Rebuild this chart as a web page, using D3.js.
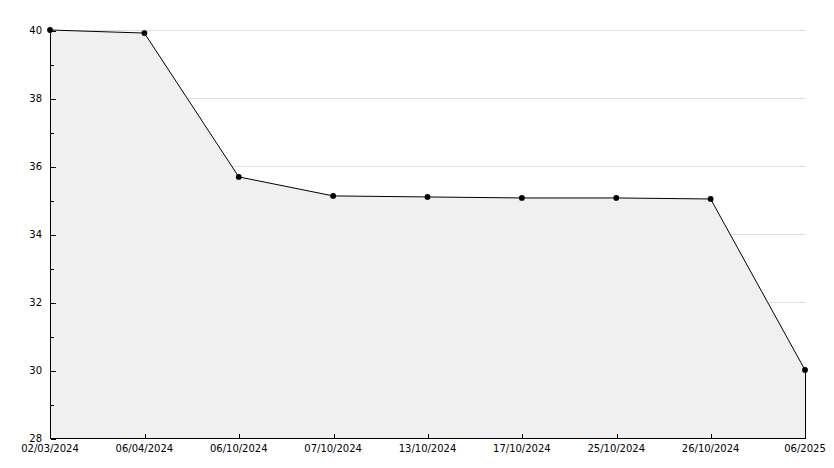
<!DOCTYPE html>
<html><head><meta charset="utf-8">
<script src="https://cdn.jsdelivr.net/npm/d3@7"></script>
<style>body{margin:0;background:#fff}svg{display:block}text{font-family:"DejaVu Sans",sans-serif;font-size:10px;fill:#000}</style>
</head><body>
<script>
const categories = ["02/03/2024","06/04/2024","06/10/2024","07/10/2024","13/10/2024","17/10/2024","25/10/2024","26/10/2024","06/2025"];
const values = [40, 39.91, 35.68, 35.12, 35.09, 35.06, 35.06, 35.03, 30];
const yTicks = [28, 30, 32, 34, 36, 38, 40];
const yMinor = [29, 31, 33, 35, 37, 39];

(function () {
const W = 834, H = 468;
const pL = 50, pR = 805, pT = 30, pB = 438;
const svg = d3.select("body").append("svg").attr("width", W).attr("height", H);

const x = d3.scalePoint().domain(categories).range([pL, pR]);
const y = d3.scaleLinear().domain([28, 40]).range([pB, pT]);
const data = categories.map((c, i) => ({c, v: values[i]}));

// grid
svg.append("g").selectAll("line").data(yTicks.filter(t => t > 28)).join("line")
  .attr("x1", pL).attr("x2", pR)
  .attr("y1", d => Math.round(y(d)) + 0.5).attr("y2", d => Math.round(y(d)) + 0.5)
  .attr("stroke", "#dddddd").attr("stroke-width", 1);

// area
const area = d3.area().x(d => x(d.c)).y0(y(28)).y1(d => y(d.v));
svg.append("path").datum(data).attr("d", area).attr("fill", "#f0f0f0");

// right edge line
svg.append("line").attr("x1", pR + 0.5).attr("x2", pR + 0.5)
  .attr("y1", y(values[values.length - 1])).attr("y2", pB)
  .attr("stroke", "#000").attr("shape-rendering", "crispEdges");

// line
const line = d3.line().x(d => x(d.c)).y(d => y(d.v));
svg.append("path").datum(data).attr("d", line).attr("fill", "none").attr("stroke", "#000").attr("stroke-width", 1);

// markers
const sym = d3.symbol().type(d3.symbolCircle).size(26);
svg.append("g").selectAll("path").data(data).join("path")
  .attr("transform", d => `translate(${x(d.c)},${y(d.v)})`)
  .attr("d", sym).attr("fill", "#000");

// y axis
const ga = svg.append("g").attr("transform", `translate(${pL + 0.5},0.5)`)
  .call(d3.axisRight(y).tickValues(yTicks).tickSize(5).tickFormat(""));
ga.select(".domain").remove();
ga.selectAll("line").attr("stroke", "#000").attr("shape-rendering", "crispEdges");
const gm = svg.append("g").attr("transform", `translate(${pL + 0.5},0.5)`)
  .call(d3.axisRight(y).tickValues(yMinor).tickSize(3).tickFormat(""));
gm.select(".domain").remove();
gm.selectAll("line").attr("stroke", "#000").attr("shape-rendering", "crispEdges");
svg.append("line").attr("x1", pL + 0.5).attr("x2", pL + 0.5).attr("y1", pT - 1).attr("y2", pB + 0.5)
  .attr("stroke", "#000").attr("shape-rendering", "crispEdges");
svg.append("g").selectAll("text").data(yTicks).join("text")
  .attr("x", 42).attr("y", d => y(d) + 1).attr("text-anchor", "end")
  .attr("dominant-baseline", "middle").text(d => d);

// x axis
const gx = svg.append("g").attr("transform", `translate(0.5,${pB + 0.5})`)
  .call(d3.axisTop(x).tickValues(categories.slice(1, -1)).tickSize(5).tickFormat(""));
gx.select(".domain").remove();
gx.selectAll("line").attr("stroke", "#000").attr("shape-rendering", "crispEdges");
svg.append("line").attr("x1", pL).attr("x2", pR + 1).attr("y1", pB + 0.5).attr("y2", pB + 0.5)
  .attr("stroke", "#000").attr("shape-rendering", "crispEdges");
svg.append("g").selectAll("text").data(categories).join("text")
  .attr("x", d => x(d)).attr("y", 449).attr("text-anchor", "middle")
  .attr("dominant-baseline", "middle").text(d => d);
})();
</script>
</body></html>
